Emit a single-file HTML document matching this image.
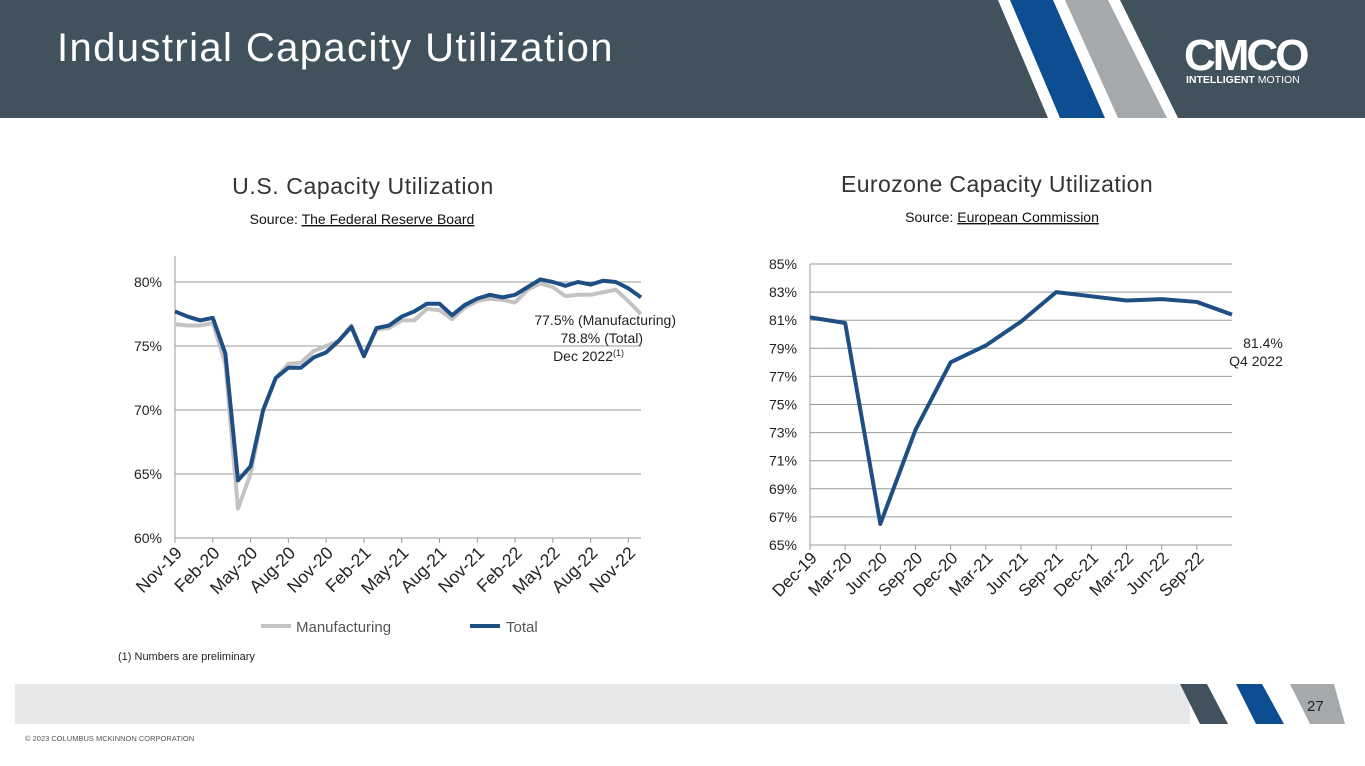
<!DOCTYPE html>
<html><head><meta charset="utf-8">
<style>
body{margin:0;width:1365px;height:766px;overflow:hidden;background:#fff;font-family:"Liberation Sans",sans-serif;position:relative}
.abs{position:absolute}
</style></head>
<body>
<svg class="abs" style="left:0;top:0" width="1365" height="766">
  <g>
    <rect x="0" y="0" width="1365" height="118" fill="#42525c"/>
    <polygon points="998,0 1120,0 1178,118 1048,118" fill="#fff"/>
    <polygon points="1010,0 1053,0 1105,118 1060,118" fill="#0d4d92"/>
    <polygon points="1065,0 1108,0 1167,118 1118,118" fill="#a5a9ac"/>
    <text x="57" y="61" font-size="40" fill="#fff" letter-spacing="1.4">Industrial Capacity Utilization</text>
    <text x="1184" y="70" font-size="44" font-weight="bold" fill="#fff" letter-spacing="-3">CMCO</text>
    <text x="1186" y="83" font-size="10.5" fill="#fff"><tspan font-weight="bold">INTELLIGENT</tspan> MOTION</text>
  </g>
  <g>
    <rect x="15" y="684" width="1175" height="40" fill="#e7e8ea"/>
    <polygon points="1180,684 1207,684 1228,724 1200,724" fill="#42525c"/>
    <polygon points="1236,684 1262,684 1284,724 1256,724" fill="#0d4d92"/>
    <polygon points="1290,684 1334,684 1345,724 1310,724" fill="#a5a9ac"/>
    <text x="1307" y="711" font-size="15" fill="#222">27</text>
    <text x="25" y="741" font-size="7.5" fill="#555">© 2023 COLUMBUS MCKINNON CORPORATION</text>
    <text x="118" y="660" font-size="11" fill="#222">(1)   Numbers are preliminary</text>
  </g>
  <text x="363" y="194" font-size="23" fill="#333" text-anchor="middle" letter-spacing="0.6">U.S. Capacity Utilization</text>
  <text x="362" y="224" font-size="14" fill="#111" text-anchor="middle">Source: <tspan text-decoration="underline">The Federal Reserve Board</tspan></text>
  <text x="997" y="192" font-size="23" fill="#333" text-anchor="middle" letter-spacing="0.4">Eurozone Capacity Utilization</text>
  <text x="1002" y="222" font-size="14" fill="#111" text-anchor="middle">Source: <tspan text-decoration="underline">European Commission</tspan></text>
  <g id="us"></g>
  <g id="eu"></g>
</svg>
<script>
const usLabels=["Nov-19","Feb-20","May-20","Aug-20","Nov-20","Feb-21","May-21","Aug-21","Nov-21","Feb-22","May-22","Aug-22","Nov-22"];
const usTicks=[60,65,70,75,80];
const usTotal=[77.7,77.3,77.0,77.2,74.4,64.5,65.6,70.0,72.5,73.3,73.3,74.1,74.5,75.4,76.5,74.2,76.4,76.6,77.3,77.7,78.3,78.3,77.4,78.2,78.7,79.0,78.8,79.0,79.6,80.2,80.0,79.7,80.0,79.8,80.1,80.0,79.5,78.8];
const usManuf=[76.7,76.6,76.6,76.8,73.6,62.3,65.0,70.0,72.5,73.6,73.7,74.6,75.0,75.4,76.6,74.3,76.3,76.4,77.0,77.0,77.9,77.8,77.1,78.0,78.5,78.7,78.6,78.4,79.4,79.9,79.6,78.9,79.0,79.0,79.2,79.4,78.5,77.5];
const euLabels=["Dec-19","Mar-20","Jun-20","Sep-20","Dec-20","Mar-21","Jun-21","Sep-21","Dec-21","Mar-22","Jun-22","Sep-22"];
const euTicks=[65,67,69,71,73,75,77,79,81,83,85];
const euValues=[81.2,80.8,66.5,73.2,78.0,79.2,80.9,83.0,82.7,82.4,82.5,82.3,81.4];

const NS="http://www.w3.org/2000/svg";
function mk(p,tag,a,txt){const e=document.createElementNS(NS,tag);for(const k in a)e.setAttribute(k,a[k]);if(txt!==undefined)e.textContent=txt;p.appendChild(e);return e;}

// US chart
(function(){
const g=document.getElementById('us');
const x0=175,x1=641,yTop=282,yBot=538,vMin=60,vMax=80;
const n=usTotal.length;
const X=i=>x0+(x1-x0)*i/(n-1);
const Y=v=>yBot-(v-vMin)/(vMax-vMin)*(yBot-yTop);
usTicks.forEach(t=>{
  const l=mk(g,'line',{x1:x0,x2:x1,y1:Y(t),y2:Y(t),stroke:'#999','stroke-width':1});
  
  
  const tx=mk(g,'text',{x:162,y:Y(t)+5,'font-size':14,fill:'#222','text-anchor':'end'},t+'%');
  
  
});
mk(g,'line',{x1:x0,x2:x0,y1:256,y2:yBot,stroke:'#999'});
usLabels.forEach((s,k)=>{
  const xi=X(k*3);
  mk(g,'line',{x1:xi,x2:xi,y1:yBot,y2:yBot+5,stroke:'#999'});
  const t=mk(g,'text',{x:xi+8,y:yBot+16,'font-size':17.5,fill:'#222','text-anchor':'end',transform:`rotate(-45 ${xi+8} ${yBot+16})`},s);
  
  
});
const pm=mk(g,'polyline',{points:usManuf.map((v,i)=>X(i)+','+Y(v)).join(' '),fill:'none',stroke:'#c3c3c3','stroke-width':4,'stroke-linejoin':'round'});


const pt=mk(g,'polyline',{points:usTotal.map((v,i)=>X(i)+','+Y(v)).join(' '),fill:'none',stroke:'#1f4e84','stroke-width':4,'stroke-linejoin':'round'});


const a=mk(g,'text',{'font-size':14,fill:'#222','text-anchor':'end'});


a.innerHTML='<tspan x="676" y="325">77.5% (Manufacturing)</tspan><tspan x="643" y="343">78.8% (Total)</tspan><tspan x="624" y="361">Dec 2022</tspan><tspan font-size="9" dy="-5">(1)</tspan>';
const lg=mk(g,'g',{});


mk(lg,'line',{x1:261,x2:291,y1:626,y2:626,stroke:'#c3c3c3','stroke-width':4});
mk(lg,'text',{x:296,y:632,'font-size':15,fill:'#555'},'Manufacturing');
mk(lg,'line',{x1:470,x2:500,y1:626,y2:626,stroke:'#1f4e84','stroke-width':4});
mk(lg,'text',{x:506,y:632,'font-size':15,fill:'#555'},'Total');
})();

// EU chart
(function(){
const g=document.getElementById('eu');
const x0=810,x1=1232,yTop=264,yBot=545,vMin=65,vMax=85;
const n=euValues.length;
const X=i=>x0+(x1-x0)*i/(n-1);
const Y=v=>yBot-(v-vMin)/(vMax-vMin)*(yBot-yTop);
euTicks.forEach(t=>{
  const l=mk(g,'line',{x1:x0,x2:x1,y1:Y(t),y2:Y(t),stroke:'#999','stroke-width':1});
  
  
  const tx=mk(g,'text',{x:797,y:Y(t)+5,'font-size':14,fill:'#222','text-anchor':'end'},t+'%');
  
  
});
mk(g,'line',{x1:x0,x2:x0,y1:yTop,y2:yBot,stroke:'#999'});
euLabels.forEach((s,k)=>{
  const xi=X(k);
  mk(g,'line',{x1:xi,x2:xi,y1:yBot,y2:yBot+5,stroke:'#999'});
  const t=mk(g,'text',{x:xi+8,y:yBot+14,'font-size':17,fill:'#222','text-anchor':'end',transform:`rotate(-45 ${xi+8} ${yBot+14})`},s);
  
  
});
const p=mk(g,'polyline',{points:euValues.map((v,i)=>X(i)+','+Y(v)).join(' '),fill:'none',stroke:'#1f4e84','stroke-width':4,'stroke-linejoin':'round'});


const a=mk(g,'text',{'font-size':14,fill:'#222','text-anchor':'middle'});


a.innerHTML='<tspan x="1263" y="348">81.4%</tspan><tspan x="1256" y="366">Q4 2022</tspan>';
})();
</script>
</body></html>
